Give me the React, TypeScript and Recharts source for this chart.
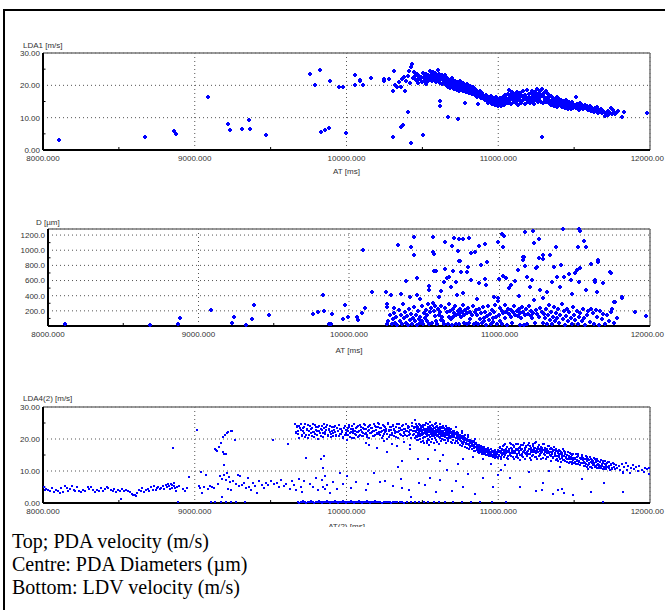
import {
  ScatterChart,
  Scatter,
  XAxis,
  YAxis,
  CartesianGrid,
  ReferenceLine,
} from "recharts";

const FONT = "'Liberation Sans', Arial, sans-serif";
const BLUE = "#0000ff";

type Pt = [number, number];

// axis ticks
const xTicks = [8000, 9000, 10000, 11000, 12000];
const xMinor = [8500, 9500, 10500, 11500];
const velTicks = [0, 10, 20, 30];
const velMinor = [5, 15, 25];
const diaTicks = [200, 400, 600, 800, 1000, 1200];
const diaMinor = [100, 300, 500, 700, 900, 1100];

// ---- top: LDA1 [m/s] (t in ms, v in m/s)
const lda1Sparse: Pt[] = [
  [8106, 3.2], [8674, 4.1], [8861, 5.9], [8875, 4.9], [9085, 16.5], [9217, 8.0], [9234, 6.3], [9309, 6.5],
  [9357, 9.4], [9365, 6.6], [9471, 4.7], [9757, 23.5], [9790, 20.2], [9826, 24.8], [9829, 5.5], [9860, 6.1],
  [9882, 6.8], [9890, 21.2], [9952, 19.6], [9975, 19.4], [9994, 5.2], [10053, 23.3], [10059, 20.2], [10087, 21.6],
  [10092, 21.2], [10106, 20.2], [10159, 22.3], [10246, 21.9], [10249, 21.2], [10282, 22.1], [10304, 18.4], [10306, 4.1],
  [10316, 24.5], [10322, 20.2], [10330, 19.6], [10344, 20.9], [10361, 19.4], [10361, 7.1], [10366, 22.1], [10372, 7.7],
  [10378, 22.7], [10386, 18.1], [10405, 11.6], [10414, 24.5], [10422, 2.2], [10428, 25.6], [10434, 26.6], [10442, 24.0],
  [10506, 4.7], [10615, 15.3], [10615, 13.7], [10666, 10.3], [10736, 9.6], [10783, 14.4], [11287, 4.1], [11813, 10.2],
  [11827, 11.9], [11980, 11.3], [10395, 21.4], [10408, 22.8], [10420, 20.6], [10437, 22.2],
];

const lda1Band: Pt[] = [
  [10452, 22.8], [10458, 21.5], [10463, 23.4], [10470, 22.1], [10474, 20.6], [10480, 23.0], [10486, 21.9], [10490, 22.6],
  [10497, 20.9], [10503, 23.8], [10508, 22.3], [10512, 21.2], [10518, 22.9], [10523, 20.4], [10527, 23.5], [10531, 22.0],
  [10536, 21.4], [10540, 23.1], [10544, 22.5], [10548, 24.3], [10552, 21.8], [10555, 23.0], [10558, 22.4], [10561, 23.7],
  [10564, 21.2], [10567, 22.9], [10570, 24.1], [10573, 22.2], [10576, 23.4], [10579, 21.6], [10582, 22.8], [10585, 23.9],
  [10588, 22.5], [10591, 21.0], [10594, 23.2], [10597, 22.0], [10600, 24.6], [10603, 22.7], [10606, 21.4], [10609, 23.5],
  [10612, 22.2], [10616, 20.8], [10619, 23.0], [10622, 21.9], [10625, 22.6], [10628, 20.3], [10632, 23.3], [10635, 21.5],
  [10638, 22.4], [10642, 20.9], [10645, 21.8], [10648, 23.1], [10652, 21.2], [10656, 20.0], [10659, 22.3], [10662, 21.5],
  [10666, 19.6], [10669, 20.8], [10672, 22.0], [10676, 21.1], [10679, 19.2], [10683, 20.5], [10686, 21.7], [10690, 20.1],
  [10693, 22.4], [10697, 19.8], [10700, 20.9], [10704, 21.6], [10707, 18.9], [10711, 20.3], [10714, 21.2], [10718, 19.5],
  [10721, 20.7], [10725, 18.6], [10728, 21.0], [10732, 19.9], [10735, 20.4], [10739, 18.3], [10742, 19.6], [10746, 21.3],
  [10749, 19.0], [10753, 20.2], [10757, 18.7], [10761, 19.5], [10765, 20.6], [10769, 18.1], [10773, 19.3], [10777, 20.0],
  [10781, 18.5], [10785, 19.7], [10789, 17.8], [10793, 19.0], [10797, 20.3], [10801, 18.4], [10805, 19.2], [10809, 17.5],
  [10813, 18.8], [10817, 19.9], [10821, 18.0], [10825, 17.2], [10829, 18.6], [10833, 19.4], [10837, 17.6], [10841, 18.3],
  [10845, 16.9], [10849, 18.9], [10853, 17.9], [10857, 16.5], [10861, 18.1], [10865, 17.3], [10869, 14.3], [10873, 17.7],
  [10877, 16.8], [10881, 18.4], [10885, 17.0], [10889, 16.2], [10893, 17.5], [10897, 16.6], [10901, 17.1], [10905, 15.9],
  [10909, 16.7], [10913, 15.4], [10917, 16.3], [10921, 17.0], [10925, 15.1], [10929, 16.0], [10933, 14.6], [10937, 15.7],
  [10941, 16.5], [10945, 14.9], [10949, 15.6], [10953, 16.8], [10957, 14.2], [10961, 15.3], [10965, 16.1], [10969, 14.7],
  [10973, 15.5], [10977, 13.9], [10981, 15.0], [10985, 16.4], [10989, 14.4], [10993, 15.8], [10997, 13.6], [11001, 15.2],
  [11005, 14.1], [11009, 16.0], [11013, 14.8], [11017, 13.5], [11021, 15.6], [11025, 14.3], [11029, 16.3], [11033, 15.0],
  [11037, 14.0], [11041, 15.9], [11045, 17.1], [11049, 14.6], [11053, 16.2], [11057, 15.1], [11061, 17.4], [11065, 14.5],
  [11069, 16.0], [11073, 18.6], [11077, 15.6], [11081, 16.9], [11085, 14.2], [11089, 15.8], [11093, 17.8], [11097, 16.4],
  [11101, 14.9], [11105, 15.5], [11109, 17.2], [11113, 16.1], [11117, 14.4], [11121, 18.0], [11125, 15.3], [11129, 16.7],
  [11133, 14.0], [11137, 15.9], [11141, 17.5], [11145, 16.3], [11149, 15.0], [11153, 14.6], [11157, 16.8], [11161, 18.2],
  [11165, 15.4], [11169, 16.0], [11173, 14.3], [11177, 17.0], [11181, 15.7], [11185, 16.5], [11189, 18.6], [11193, 14.8],
  [11197, 15.9], [11201, 17.3], [11205, 16.2], [11209, 14.5], [11213, 15.6], [11217, 17.7], [11221, 16.4], [11225, 18.3],
  [11229, 15.2], [11233, 16.9], [11237, 14.1], [11241, 17.9], [11245, 16.0], [11249, 15.4], [11253, 18.8], [11257, 16.6],
  [11261, 14.7], [11265, 17.4], [11269, 15.8], [11273, 18.4], [11277, 16.3], [11281, 17.1], [11285, 15.0], [11289, 18.9],
  [11293, 16.7], [11297, 14.4], [11301, 17.6], [11305, 15.5], [11309, 16.2], [11313, 18.1], [11317, 14.9], [11321, 16.0],
  [11325, 15.3], [11329, 17.2], [11333, 14.6], [11337, 16.5], [11341, 15.1], [11345, 13.8], [11349, 16.8], [11353, 15.4],
  [11357, 14.2], [11361, 16.1], [11365, 15.0], [11369, 13.6], [11373, 14.8], [11377, 15.7], [11381, 14.1], [11385, 16.4],
  [11389, 13.4], [11393, 15.2], [11397, 14.5], [11401, 15.9], [11405, 13.9], [11409, 14.7], [11413, 15.5], [11417, 13.2],
  [11421, 14.3], [11425, 15.1], [11429, 13.8], [11433, 14.9], [11437, 13.0], [11441, 14.4], [11445, 15.6], [11449, 13.5],
  [11453, 14.1], [11457, 12.8], [11461, 14.6], [11465, 13.7], [11469, 15.0], [11473, 13.3], [11477, 14.2], [11481, 12.6],
  [11485, 13.9], [11489, 14.8], [11493, 13.1], [11497, 14.0], [11505, 13.5], [11510, 16.3], [11515, 12.9], [11520, 14.3],
  [11525, 13.7], [11530, 12.5], [11535, 13.9], [11540, 14.6], [11545, 13.2], [11552, 13.8], [11558, 12.7], [11564, 13.4],
  [11570, 14.0], [11576, 12.9], [11582, 13.6], [11590, 12.4], [11596, 13.2], [11604, 13.7], [11610, 12.2], [11616, 13.0],
  [11624, 12.6], [11630, 11.8], [11636, 12.9], [11642, 12.1], [11650, 13.3], [11656, 11.5], [11662, 12.4], [11668, 11.9],
  [11676, 12.7], [11684, 11.3], [11692, 12.0], [11700, 11.6], [11706, 10.6], [11712, 11.2], [11720, 12.2], [11726, 10.8],
  [11734, 11.5], [11742, 12.9], [11748, 11.1], [11754, 12.4], [11760, 11.8], [11768, 11.0], [11775, 11.4], [11790, 12.0],
];

// ---- centre: D [µm]
const dSparse: Pt[] = [
  [8113, 25], [8676, 11], [8862, 29], [8879, 99], [9085, 213], [9220, 38], [9234, 117], [9313, 11], [9358, 90],
  [9366, 275], [9470, 143], [9758, 156], [9794, 182], [9828, 410], [9831, 196], [9868, 29], [9879, 29], [9890, 152],
  [9961, 86], [9975, 279], [9994, 117], [10056, 125], [10059, 82], [10087, 178], [10090, 1007], [10107, 244],
  [10155, 450], [10248, 450], [10251, 288], [10254, 253], [10251, 29], [10276, 415], [10301, 239], [10324, 1064],
];

const dHigh: Pt[] = [
  [10381, 595], [10414, 1042], [10430, 1178], [10430, 933], [10452, 638], [10556, 1170], [10560, 970], [10563, 946],
  [10563, 722], [10636, 1112], [10640, 753], [10685, 1059], [10695, 1156], [10725, 993], [10729, 1146], [10729, 860],
  [10740, 862], [10755, 1146], [10795, 1164], [10813, 959], [10866, 1051], [10901, 1082], [10988, 1104], [11017, 1213],
  [11032, 1182], [11021, 1038], [11155, 866], [11161, 914], [11172, 1235], [11223, 1249], [11231, 1091], [11240, 770],
  [11260, 1151], [11287, 884], [11337, 933], [11377, 1038], [11406, 805], [11425, 1279], [11500, 700], [11520, 1040],
  [11526, 1275], [11532, 1260], [11537, 770], [11564, 1121], [11572, 1042], [11637, 586], [11652, 871], [11655, 850],
  [11690, 565], [11736, 717], [11763, 322], [11817, 380], [11973, 138],
];

const dMid: Pt[] = [
  [10403, 389], [10454, 406], [10530, 529], [10530, 476], [10577, 731], [10614, 463], [10628, 582], [10651, 630],
  [10665, 652], [10679, 520], [10693, 731], [10713, 586], [10732, 858], [10744, 718], [10755, 432], [10783, 709],
  [10792, 775], [10811, 608], [10834, 972], [10862, 564], [10876, 805], [10901, 617], [10910, 542], [10918, 849],
  [10966, 389], [10989, 367], [10994, 617], [11023, 660], [11045, 630], [11065, 507], [11079, 542], [11101, 595],
  [11121, 739], [11155, 915], [11169, 796], [11186, 652], [11200, 520], [11214, 608], [11248, 783], [11262, 893],
  [11270, 476], [11290, 937], [11318, 454], [11346, 586], [11361, 783], [11383, 652], [11403, 520], [11431, 652],
  [11459, 687], [11473, 608], [11515, 739], [11530, 586], [11572, 476], [11606, 818], [11637, 608], [11651, 454],
  [11741, 704], [11769, 323], [11811, 367], [11901, 191], [10343, 420], [10470, 360], [10600, 380], [10720, 410],
  [10850, 360], [11130, 400], [11290, 370], [11480, 420],
];

const dLow: Pt[] = [
  [10262, 60], [10270, 140], [10283, 20], [10290, 95], [10300, 175], [10308, 40], [10315, 115], [10322, 10],
  [10330, 210], [10338, 70], [10345, 150], [10352, 25], [10360, 290], [10366, 105], [10373, 180], [10380, 45],
  [10387, 130], [10393, 8], [10400, 220], [10405, 85], [10411, 160], [10418, 30], [10424, 110], [10431, 250],
  [10437, 60], [10443, 140], [10450, 15], [10456, 195], [10462, 90], [10469, 45], [10475, 120], [10482, 260],
  [10488, 70], [10494, 30], [10499, 170], [10505, 100], [10513, 210], [10517, 150], [10521, 60], [10525, 290],
  [10533, 20], [10537, 180], [10545, 240], [10552, 45], [10556, 310], [10563, 200], [10570, 130], [10574, 260],
  [10578, 70], [10585, 30], [10592, 220], [10599, 150], [10606, 190], [10609, 85], [10613, 270], [10620, 125],
  [10627, 65], [10634, 25], [10641, 240], [10648, 180], [10655, 20], [10662, 290], [10665, 115], [10672, 200],
  [10676, 90], [10683, 10], [10690, 230], [10693, 120], [10700, 170], [10707, 260], [10711, 20], [10714, 140],
  [10721, 195], [10728, 30], [10732, 160], [10739, 220], [10746, 125], [10753, 185], [10760, 280], [10763, 35],
  [10767, 140], [10774, 210], [10781, 25], [10784, 170], [10791, 240], [10798, 40], [10802, 190], [10806, 95],
  [10814, 150], [10822, 260], [10830, 30], [10834, 180], [10842, 210], [10846, 45], [10852, 140], [10858, 20],
  [10864, 230], [10870, 90], [10876, 170], [10882, 40], [10888, 250], [10894, 110], [10900, 60], [10906, 190],
  [10912, 15], [10918, 130], [10924, 270], [10930, 75], [10936, 160], [10942, 30], [10948, 210], [10954, 100],
  [10960, 50], [10966, 180], [10972, 280], [10978, 120], [10984, 20], [10990, 330], [10996, 150], [11002, 70],
  [11006, 240], [11014, 30], [11018, 200], [11026, 170], [11034, 280], [11038, 110], [11046, 190], [11050, 10],
  [11058, 230], [11066, 160], [11074, 120], [11078, 210], [11086, 35], [11090, 180], [11098, 260], [11106, 150],
  [11114, 200], [11122, 130], [11130, 230], [11134, 15], [11138, 170], [11146, 110], [11150, 250], [11158, 185],
  [11166, 10], [11170, 140], [11178, 220], [11186, 30], [11190, 160], [11198, 270], [11206, 130], [11210, 200],
  [11218, 100], [11222, 175], [11230, 340], [11238, 35], [11242, 210], [11250, 155], [11262, 120], [11268, 240],
  [11280, 190], [11292, 45], [11298, 160], [11305, 100], [11312, 230], [11318, 30], [11325, 150], [11332, 280],
  [11338, 80], [11345, 190], [11352, 20], [11358, 120], [11365, 250], [11372, 60], [11378, 170], [11385, 110],
  [11392, 230], [11398, 40], [11405, 140], [11412, 290], [11420, 90], [11428, 200], [11435, 15], [11442, 130],
  [11450, 230], [11458, 70], [11465, 180], [11472, 110], [11480, 30], [11488, 250], [11495, 150], [11503, 80],
  [11512, 200], [11520, 20], [11528, 120], [11537, 170], [11545, 60], [11553, 230], [11562, 110], [11570, 10],
  [11580, 140], [11590, 200], [11600, 50], [11610, 220], [11620, 170], [11630, 30], [11640, 210], [11650, 120],
  [11660, 10], [11670, 200], [11680, 90], [11690, 160], [11700, 20], [11712, 140], [11725, 70], [11738, 180],
  [11750, 230], [11762, 40], [11780, 110],
];

// ---- bottom: LDA4(2) [m/s]
const lda4Early: Pt[] = [
  [8005, 4.9], [8012, 4.2], [8020, 4.5], [8035, 4.0], [8048, 3.8], [8062, 4.7], [8075, 3.3], [8083, 4.1],
  [8097, 3.9], [8110, 3.0], [8118, 4.6], [8130, 3.5], [8142, 5.3], [8155, 4.8], [8168, 3.9], [8175, 4.4],
  [8190, 5.2], [8203, 4.1], [8212, 3.6], [8225, 4.9], [8238, 3.8], [8250, 3.3], [8262, 4.0], [8280, 3.7],
  [8296, 5.1], [8305, 4.5], [8318, 5.0], [8330, 4.2], [8342, 3.4], [8358, 4.0], [8372, 3.6], [8383, 4.8],
  [8395, 3.9], [8410, 4.3], [8422, 5.1], [8430, 4.6], [8445, 4.0], [8458, 3.7], [8466, 4.5], [8480, 3.3],
  [8492, 4.1], [8505, 3.9], [8514, 1.2], [8520, 4.4], [8535, 3.6], [8548, 4.2], [8560, 3.8], [8575, 3.4],
  [8588, 2.8], [8595, 2.4], [8603, 2.6], [8612, 2.3], [8620, 3.1], [8632, 4.2], [8645, 3.9], [8655, 4.6],
  [8668, 3.5], [8676, 4.1], [8690, 4.4], [8700, 3.7], [8712, 4.9], [8722, 4.2], [8730, 5.3], [8742, 4.0],
  [8752, 4.7], [8760, 5.1], [8770, 4.3], [8780, 4.8], [8790, 5.4], [8798, 4.5], [8808, 5.6], [8815, 4.9],
  [8822, 5.8], [8830, 5.2], [8836, 4.4], [8842, 6.0], [8848, 5.5], [8853, 4.8], [8857, 17.2], [8860, 6.1],
  [8866, 5.3], [8872, 4.6], [8878, 3.9], [8885, 5.0], [8890, 0.4], [8898, 5.4], [8920, 4.3], [8935, 3.6],
  [8950, 4.8], [8962, 8.2],
];

const lda4Mid: Pt[] = [
  [9015, 22.7], [9025, 5.2], [9032, 4.6], [9043, 9.7], [9050, 3.0], [9060, 5.0], [9073, 8.6], [9085, 4.4],
  [9100, 5.4], [9112, 5.0], [9125, 4.8], [9134, 16.8], [9140, 16.5], [9146, 16.2], [9152, 5.9], [9158, 17.5],
  [9165, 8.4], [9172, 18.6], [9178, 1.8], [9180, 7.6], [9184, 15.8], [9187, 20.6], [9190, 15.2], [9193, 12.0],
  [9196, 8.8], [9199, 21.3], [9203, 7.2], [9206, 15.4], [9210, 21.8], [9214, 9.5], [9218, 4.3], [9222, 22.1],
  [9226, 8.1], [9230, 6.6], [9236, 22.4], [9242, 4.0], [9246, 22.5], [9255, 7.0], [9262, 19.8], [9272, 5.8],
  [9282, 8.9], [9290, 5.3], [9300, 8.4], [9312, 5.5], [9325, 6.2], [9338, 4.6], [9348, 7.9], [9360, 5.1],
  [9372, 4.0], [9385, 6.3], [9398, 5.2], [9410, 3.1], [9425, 6.8], [9440, 5.6], [9455, 4.7], [9470, 6.1],
  [9485, 5.5], [9500, 7.0], [9518, 19.6], [9525, 5.8], [9540, 6.4], [9555, 4.9], [9570, 7.3], [9585, 5.4],
  [9600, 6.0], [9617, 18.3], [9625, 4.3], [9640, 6.9], [9655, 5.5], [9670, 4.1], [9685, 7.6], [9698, 5.0],
];

const lda4Upper: Pt[] = [
  [9661, 24.6], [9668, 22.3], [9675, 23.8], [9682, 21.5], [9690, 24.2], [9697, 22.8], [9704, 20.9], [9711, 23.5],
  [9718, 22.0], [9725, 24.8], [9732, 21.3], [9738, 23.1], [9745, 20.4], [9752, 22.6], [9759, 24.0], [9766, 21.8],
  [9773, 23.4], [9780, 22.1], [9787, 20.6], [9794, 24.4], [9800, 22.9], [9807, 21.2], [9815, 23.7], [9822, 22.4],
  [9829, 20.8], [9836, 24.1], [9843, 22.0], [9850, 23.3], [9857, 21.6], [9864, 22.7], [9871, 24.5], [9878, 21.0],
  [9885, 23.0], [9892, 22.2], [9899, 20.5], [9906, 23.6], [9913, 21.9], [9920, 22.8], [9927, 24.0], [9934, 21.4],
  [9941, 22.5], [9948, 20.9], [9955, 23.2], [9962, 21.7], [9969, 22.4], [9976, 20.3], [9983, 23.5], [9990, 21.1],
  [9997, 22.0], [10004, 22.9], [10010, 21.3], [10016, 23.6], [10022, 20.7], [10028, 22.2], [10034, 24.1], [10040, 21.8],
  [10046, 23.0], [10052, 20.2], [10058, 22.6], [10064, 21.4], [10070, 23.8], [10076, 22.1], [10082, 20.8], [10088, 24.3],
  [10094, 22.7], [10100, 21.0], [10106, 23.3], [10112, 22.0], [10118, 24.6], [10124, 21.6], [10130, 23.1], [10136, 20.5],
  [10142, 22.4], [10148, 24.0], [10154, 21.9], [10160, 23.5], [10166, 22.3], [10172, 20.9], [10178, 24.8], [10184, 22.6],
  [10190, 21.2], [10196, 23.9], [10202, 22.0], [10208, 25.0], [10214, 21.5], [10220, 23.4], [10226, 22.2], [10232, 20.4],
  [10238, 24.4], [10244, 22.8], [10250, 21.7], [10256, 23.6], [10262, 22.4], [10268, 20.1], [10274, 24.9], [10280, 22.9],
  [10286, 21.3], [10292, 23.7], [10298, 22.0], [10304, 24.3], [10310, 21.0], [10316, 23.2], [10322, 22.5], [10328, 20.7],
  [10334, 24.6], [10340, 22.1], [10346, 23.4], [10352, 21.5], [10358, 22.8], [10364, 24.1], [10370, 20.9], [10376, 23.0],
  [10382, 22.2], [10388, 21.4], [10394, 24.7], [10400, 22.6], [10406, 23.5], [10412, 21.1], [10418, 22.9], [10424, 20.3],
  [10430, 24.0], [10436, 22.4], [10442, 23.3], [10448, 21.7], [10454, 26.0], [10000, 19.6], [10130, 18.8], [10250, 19.3],
  [10300, 18.5], [10380, 19.0], [10420, 18.2],
];

const lda4UpperB: Pt[] = [
  [9664, 21.9], [9671, 24.1], [9679, 22.6], [9686, 20.3], [9693, 23.3], [9701, 24.6], [9709, 21.2], [9714, 22.4],
  [9722, 23.7], [9729, 20.7], [9741, 22.9], [9748, 24.3], [9755, 21.4], [9763, 23.0], [9770, 20.9], [9777, 24.7],
  [9784, 22.3], [9791, 21.6], [9798, 23.9], [9805, 22.6], [9812, 20.1], [9819, 24.2], [9826, 21.9], [9833, 23.1],
  [9840, 22.7], [9847, 20.6], [9854, 24.6], [9861, 22.1], [9868, 23.6], [9875, 21.3], [9882, 22.8], [9889, 24.2],
  [9896, 21.7], [9903, 22.4], [9910, 20.8], [9917, 23.9], [9924, 22.2], [9931, 21.0], [9938, 23.4], [9945, 22.6],
  [9952, 24.4], [9959, 21.5], [9966, 23.0], [9973, 22.2], [9980, 20.6], [9987, 24.0], [9994, 22.7], [10001, 21.4],
  [10007, 23.5], [10013, 22.4], [10019, 24.4], [10025, 21.9], [10031, 23.2], [10037, 20.4], [10043, 22.6], [10049, 24.7],
  [10055, 21.7], [10061, 23.4], [10067, 22.3], [10073, 20.6], [10079, 24.0], [10085, 22.5], [10091, 21.3], [10097, 23.7],
  [10103, 22.2], [10109, 20.8], [10115, 23.0], [10121, 24.3], [10127, 22.0], [10133, 21.1], [10139, 23.6], [10145, 22.8],
  [10151, 20.3], [10157, 24.5], [10163, 21.8], [10169, 23.3], [10175, 22.5], [10181, 21.0], [10187, 24.1], [10193, 22.9],
  [10199, 21.6], [10205, 23.7], [10211, 22.3], [10217, 24.8], [10223, 21.2], [10229, 23.5], [10235, 22.6], [10241, 20.9],
  [10247, 24.0], [10253, 22.2], [10259, 23.2], [10265, 21.5], [10271, 24.6], [10277, 22.4], [10283, 20.6], [10289, 23.8],
  [10295, 22.7], [10301, 21.2], [10307, 24.2], [10313, 22.9], [10319, 21.8], [10325, 23.6], [10331, 22.3], [10337, 20.4],
  [10343, 24.8], [10349, 22.5], [10355, 23.4], [10361, 21.3], [10367, 22.7], [10373, 24.4], [10379, 21.9], [10385, 23.2],
  [10391, 22.6], [10397, 20.8], [10403, 24.1], [10409, 22.2], [10415, 23.7], [10421, 21.6], [10427, 22.8], [10433, 25.0],
  [10439, 21.3], [10445, 23.9], [10451, 22.5],
];

const lda4Peak: Pt[] = [
  [10456, 22.1], [10459, 23.8], [10462, 20.6], [10464, 22.9], [10467, 24.2], [10470, 21.4], [10472, 19.8], [10475, 23.1],
  [10478, 22.3], [10480, 20.9], [10483, 24.5], [10486, 21.7], [10488, 23.4], [10491, 19.2], [10494, 22.6], [10496, 24.0],
  [10499, 21.1], [10502, 22.8], [10504, 20.3], [10507, 23.6], [10510, 21.9], [10512, 18.6], [10515, 22.4], [10518, 24.3],
  [10520, 20.7], [10523, 23.0], [10526, 21.5], [10528, 19.5], [10531, 22.2], [10534, 24.6], [10536, 20.1], [10539, 23.3],
  [10542, 21.2], [10544, 18.1], [10547, 22.7], [10550, 24.1], [10552, 20.5], [10555, 23.5], [10558, 21.8], [10560, 19.1],
  [10563, 22.9], [10566, 24.4], [10568, 20.8], [10571, 23.2], [10574, 21.4], [10576, 18.9], [10579, 22.5], [10582, 24.7],
  [10584, 20.2], [10587, 23.7], [10590, 21.6], [10592, 19.7], [10595, 22.3], [10598, 24.2], [10600, 20.9], [10603, 23.0],
  [10606, 21.3], [10608, 18.4], [10611, 22.6], [10614, 23.9], [10616, 20.4], [10619, 22.8], [10622, 21.0], [10624, 19.3],
  [10627, 23.4], [10630, 21.7], [10632, 20.1], [10635, 22.5], [10638, 23.8], [10640, 19.6], [10643, 21.9], [10646, 22.9],
  [10648, 20.6], [10651, 23.2], [10654, 21.2], [10656, 18.8], [10659, 22.0], [10662, 23.5], [10664, 20.3], [10667, 21.6],
  [10670, 22.7], [10672, 19.4], [10675, 21.1], [10678, 22.9], [10680, 20.5], [10683, 21.8], [10686, 19.1], [10688, 22.3],
  [10691, 20.8], [10694, 21.5], [10696, 18.7], [10699, 22.0], [10457, 21.0], [10466, 23.0], [10474, 22.0], [10482, 21.0],
  [10490, 23.0], [10498, 22.0], [10506, 21.6], [10514, 23.2], [10522, 22.0], [10530, 20.8], [10538, 22.6], [10546, 21.4],
  [10554, 22.2], [10562, 21.0], [10570, 22.0], [10578, 23.4], [10586, 22.0], [10594, 21.0], [10602, 22.4], [10610, 21.5],
  [10618, 23.0], [10626, 22.0], [10634, 21.0], [10642, 20.8], [10650, 22.0], [10658, 21.3], [10666, 22.6], [10674, 20.7],
];

const lda4PeakB: Pt[] = [
  [10451, 20.2], [10455, 24.6], [10461, 22.4], [10465, 19.6], [10469, 23.6], [10473, 21.1], [10477, 24.8], [10481, 22.7],
  [10485, 19.9], [10489, 21.3], [10493, 23.9], [10497, 22.5], [10501, 19.4], [10505, 24.4], [10509, 22.9], [10513, 20.6],
  [10517, 21.8], [10521, 24.9], [10525, 22.6], [10529, 18.8], [10533, 21.4], [10537, 23.8], [10541, 22.1], [10545, 19.7],
  [10549, 23.0], [10553, 25.2], [10557, 21.6], [10561, 22.7], [10565, 20.0], [10569, 24.0], [10573, 22.4], [10577, 20.9],
  [10581, 23.5], [10585, 21.9], [10589, 25.0], [10593, 22.8], [10597, 19.0], [10601, 23.3], [10605, 22.1], [10609, 20.6],
  [10613, 24.6], [10617, 21.6], [10621, 23.6], [10625, 22.4], [10629, 20.0], [10633, 24.1], [10637, 22.0], [10641, 21.1],
  [10645, 23.4], [10649, 19.8], [10653, 22.6], [10657, 24.0], [10661, 21.3], [10665, 22.9], [10669, 20.0], [10673, 23.3],
  [10677, 21.7], [10681, 22.6], [10685, 20.2], [10689, 23.0], [10693, 21.9], [10697, 20.5], [10500, 22.4], [10508, 21.8],
  [10516, 23.0], [10524, 22.2], [10532, 21.6], [10540, 22.8], [10548, 23.4], [10556, 22.0], [10564, 21.5], [10572, 22.9],
  [10580, 22.3], [10588, 21.4], [10596, 22.7], [10604, 23.1], [10612, 21.9], [10620, 22.5], [10628, 21.3], [10636, 22.6],
  [10644, 21.8], [10652, 22.8], [10660, 21.5], [10668, 22.1], [10676, 21.8], [10684, 22.5], [10692, 21.3],
];

const lda4Fall: Pt[] = [
  [10702, 21.3], [10705, 19.8], [10708, 22.4], [10711, 20.6], [10714, 18.9], [10717, 21.7], [10720, 20.2], [10723, 22.0],
  [10726, 19.4], [10729, 21.1], [10732, 20.5], [10735, 18.6], [10738, 21.8], [10741, 19.9], [10744, 20.7], [10747, 18.2],
  [10750, 21.3], [10753, 19.5], [10756, 20.4], [10759, 17.9], [10762, 21.0], [10765, 19.2], [10768, 20.1], [10771, 18.5],
  [10774, 20.8], [10777, 19.0], [10780, 17.6], [10783, 20.3], [10786, 18.8], [10789, 19.7], [10792, 17.3], [10795, 20.0],
  [10798, 18.4], [10801, 19.3], [10804, 16.9], [10807, 19.6], [10810, 18.1], [10813, 19.0], [10816, 17.5], [10819, 18.7],
  [10822, 19.4], [10825, 16.8], [10828, 18.3], [10831, 17.7], [10834, 19.1], [10837, 16.4], [10840, 18.0], [10843, 17.2],
  [10846, 18.8], [10849, 16.1], [10852, 17.6], [10855, 18.4], [10858, 16.7], [10861, 17.3], [10864, 15.9], [10867, 18.1],
  [10870, 16.9], [10873, 17.5], [10876, 15.6], [10879, 16.6], [10882, 17.8], [10885, 16.0], [10888, 17.1], [10891, 15.4],
  [10894, 16.5], [10897, 17.4], [10900, 15.8], [10903, 16.8], [10906, 15.2], [10909, 16.2], [10912, 17.0], [10915, 15.5],
  [10918, 16.4], [10921, 14.9], [10924, 15.9], [10927, 16.9], [10930, 15.3], [10933, 16.1], [10936, 14.8], [10939, 15.7],
  [10942, 16.6], [10945, 15.0], [10948, 16.0], [10951, 14.6], [10954, 15.5], [10957, 16.4], [10960, 14.9], [10963, 15.8],
  [10966, 14.4], [10969, 15.3], [10972, 16.2], [10975, 14.7], [10978, 15.6], [10981, 14.2], [10984, 15.1], [10987, 16.0],
  [10990, 14.5], [10993, 15.4], [10996, 14.0], [10999, 15.8], [10720, 23.8], [10760, 22.6], [10800, 21.2], [10850, 20.0],
  [10704, 22.6], [10709, 20.9], [10715, 21.9], [10719, 19.3], [10725, 21.0], [10731, 22.2], [10737, 20.1], [10742, 21.4],
  [10748, 19.6], [10754, 20.9], [10758, 22.0], [10764, 18.9], [10770, 20.6], [10775, 19.8], [10781, 21.2], [10787, 18.4],
  [10793, 19.5], [10799, 20.6], [10805, 18.2], [10811, 19.8], [10817, 18.9], [10823, 17.7], [10829, 19.3], [10835, 18.0],
  [10841, 19.5], [10847, 17.4], [10853, 18.6], [10859, 17.8], [10865, 16.5], [10871, 18.2], [10877, 17.1], [10883, 16.3],
  [10889, 17.7], [10895, 16.0], [10901, 16.9], [10907, 17.6], [10913, 15.7], [10919, 16.5], [10925, 15.1], [10931, 17.2],
  [10937, 16.2], [10943, 15.2], [10949, 16.8], [10955, 15.9], [10961, 14.7], [10967, 16.2], [10973, 15.0], [10979, 16.6],
  [10985, 14.6], [10991, 15.6], [10997, 16.5],
];

const lda4Plateau: Pt[] = [
  [11003, 16.3], [11007, 14.8], [11011, 17.2], [11015, 15.5], [11019, 13.9], [11023, 16.7], [11027, 15.1], [11031, 17.8],
  [11035, 14.4], [11039, 16.0], [11043, 18.3], [11047, 15.3], [11051, 16.8], [11055, 14.1], [11059, 17.4], [11063, 15.8],
  [11067, 13.6], [11071, 16.5], [11075, 18.6], [11079, 15.0], [11083, 17.1], [11087, 14.7], [11091, 16.2], [11095, 18.0],
  [11099, 15.6], [11103, 13.8], [11107, 17.6], [11111, 16.1], [11115, 14.5], [11119, 18.4], [11123, 15.4], [11127, 16.9],
  [11131, 14.0], [11135, 17.3], [11139, 15.9], [11143, 13.5], [11147, 16.6], [11151, 18.1], [11155, 15.2], [11159, 17.0],
  [11163, 14.3], [11167, 16.4], [11171, 18.7], [11175, 15.7], [11179, 13.7], [11183, 17.5], [11187, 16.0], [11191, 14.6],
  [11195, 18.2], [11199, 15.3], [11203, 16.8], [11207, 14.1], [11211, 17.7], [11215, 15.9], [11219, 13.4], [11223, 16.5],
  [11227, 18.5], [11231, 15.1], [11235, 17.2], [11239, 14.4], [11243, 16.2], [11247, 19.2], [11251, 15.6], [11255, 13.9],
  [11259, 17.4], [11263, 16.0], [11267, 14.7], [11271, 18.0], [11275, 15.4], [11279, 16.9], [11283, 13.6], [11287, 17.1],
  [11291, 15.8], [11295, 14.2], [11299, 16.6], [11303, 18.3], [11307, 15.0], [11311, 16.7], [11315, 13.8], [11319, 17.0],
  [11323, 15.5], [11327, 14.3], [11331, 16.4], [11335, 17.7], [11339, 14.9], [11343, 15.9], [11347, 13.2], [11351, 16.8],
  [11355, 15.2], [11359, 14.0], [11363, 16.3], [11367, 17.4], [11371, 14.6], [11375, 15.7], [11379, 13.5], [11383, 16.1],
  [11387, 14.8], [11391, 15.5], [11395, 13.1], [11399, 16.6], [11403, 14.4], [11407, 15.3], [11411, 12.9], [11415, 15.9],
  [11419, 14.2], [11423, 15.0], [11427, 13.4], [11431, 16.2], [11435, 14.7], [11439, 13.0], [11443, 15.4], [11447, 14.1],
  [11451, 12.7], [11455, 15.1], [11459, 13.8], [11463, 14.6], [11467, 12.5], [11471, 15.6], [11475, 13.6], [11479, 14.3],
  [11483, 12.3], [11487, 14.9], [11491, 13.3], [11495, 14.0], [11499, 12.6], [11005, 15.8], [11017, 16.0], [11029, 15.4],
  [11041, 16.5], [11053, 15.6], [11065, 16.3], [11077, 15.2], [11089, 16.8], [11101, 16.2], [11113, 15.5], [11125, 16.6],
  [11137, 15.7], [11149, 16.9], [11161, 16.0], [11173, 17.1], [11185, 15.4], [11197, 16.4], [11209, 17.0], [11221, 15.8],
  [11233, 16.5], [11245, 17.3], [11257, 16.1], [11269, 16.8], [11281, 15.5], [11293, 16.6], [11305, 15.9], [11317, 16.3],
  [11329, 15.6],
];

const lda4PlateauB: Pt[] = [
  [11002, 15.0], [11009, 17.5], [11014, 16.4], [11021, 14.3], [11026, 16.9], [11033, 15.7], [11038, 18.0], [11045, 14.9],
  [11050, 16.1], [11057, 17.6], [11062, 14.6], [11069, 15.9], [11074, 17.0], [11081, 18.3], [11086, 15.5], [11093, 16.7],
  [11098, 14.3], [11105, 17.8], [11110, 15.9], [11117, 16.8], [11122, 14.8], [11129, 18.5], [11134, 16.3], [11141, 15.1],
  [11146, 17.6], [11153, 16.7], [11158, 14.6], [11165, 18.1], [11170, 15.8], [11177, 16.6], [11182, 17.8], [11189, 14.9],
  [11194, 16.3], [11201, 18.9], [11206, 15.3], [11213, 17.1], [11218, 16.2], [11225, 14.7], [11230, 17.9], [11237, 16.0],
  [11242, 18.6], [11249, 14.5], [11254, 17.0], [11261, 15.8], [11266, 18.2], [11273, 16.3], [11278, 14.9], [11285, 17.6],
  [11290, 16.1], [11297, 18.4], [11302, 15.2], [11309, 17.3], [11314, 16.0], [11321, 14.5], [11326, 17.9], [11333, 15.6],
  [11338, 16.9], [11345, 14.8], [11350, 17.2], [11357, 15.9], [11362, 14.3], [11369, 16.6], [11374, 15.1], [11381, 17.0],
  [11386, 13.7], [11393, 16.1], [11398, 14.9], [11405, 16.4], [11410, 13.9], [11417, 15.6], [11422, 14.6], [11429, 16.8],
  [11434, 13.3], [11441, 15.8], [11446, 14.5], [11453, 13.6], [11458, 15.9], [11465, 14.2], [11470, 12.9], [11477, 15.3],
  [11482, 13.9], [11489, 12.8], [11494, 15.2], [11501, 13.7],
];

const lda4Tail: Pt[] = [
  [11503, 14.2], [11508, 12.8], [11513, 15.3], [11518, 13.5], [11523, 12.1], [11528, 14.6], [11533, 13.0], [11538, 11.9],
  [11543, 14.0], [11548, 12.6], [11553, 15.1], [11558, 13.3], [11563, 11.6], [11568, 13.9], [11573, 12.4], [11578, 14.7],
  [11583, 13.0], [11588, 11.4], [11593, 13.6], [11598, 12.2], [11603, 14.3], [11608, 12.8], [11613, 11.1], [11618, 13.4],
  [11623, 12.0], [11628, 14.1], [11633, 12.5], [11638, 11.3], [11643, 13.1], [11648, 11.8], [11653, 13.7], [11658, 12.3],
  [11663, 10.9], [11668, 12.9], [11673, 11.6], [11678, 13.3], [11683, 12.0], [11688, 10.7], [11693, 12.6], [11698, 11.4],
  [11703, 13.0], [11708, 11.8], [11713, 10.5], [11718, 12.4], [11723, 11.1], [11728, 12.8], [11733, 11.5], [11738, 10.3],
  [11743, 12.1], [11748, 10.9], [11755, 12.5], [11762, 11.2], [11770, 10.6], [11778, 12.0], [11785, 11.0], [11795, 11.7],
  [11805, 10.4], [11815, 12.2], [11822, 9.8], [11830, 11.1], [11840, 12.5], [11848, 10.2], [11858, 11.6], [11866, 9.5],
  [11875, 10.8], [11885, 12.0], [11895, 10.5], [11905, 11.3], [11918, 10.0], [11930, 11.7], [11945, 10.3], [11958, 9.6],
  [11970, 11.0], [11982, 10.6], [11992, 9.2], [11996, 10.8],
];

const lda4TailB: Pt[] = [
  [11506, 13.6], [11511, 12.2], [11516, 14.5], [11521, 13.1], [11526, 15.4], [11531, 12.7], [11536, 14.2], [11541, 12.0],
  [11546, 13.7], [11551, 14.8], [11556, 12.5], [11561, 14.0], [11566, 12.9], [11571, 11.5], [11576, 13.8], [11581, 12.3],
  [11586, 14.3], [11591, 11.8], [11596, 13.4], [11601, 12.6], [11606, 11.2], [11611, 13.6], [11616, 12.4], [11621, 11.0],
  [11626, 13.1], [11631, 12.0], [11636, 13.9], [11641, 11.5], [11646, 12.7], [11651, 11.0], [11656, 13.2], [11661, 12.0],
  [11666, 11.3], [11671, 12.9], [11676, 10.8], [11681, 12.2], [11686, 11.6], [11691, 13.0], [11696, 10.6], [11701, 12.1],
  [11711, 11.4], [11721, 12.8], [11731, 10.9], [11741, 11.9], [11751, 10.7], [11761, 12.3],
];

const lda4Scatter: Pt[] = [
  [9830, 13.9], [9838, 7.2], [9843, 5.1], [9848, 10.8], [9852, 14.6], [9856, 4.4], [9860, 8.5], [9735, 14.0],
  [9760, 6.0], [9780, 4.9], [9800, 7.8], [9815, 4.2], [9870, 5.6], [9890, 3.2], [9910, 6.5], [9940, 4.4],
  [9960, 9.4], [9980, 5.8], [9720, 6.9], [9705, 3.5], [10001, 8.4], [10030, 4.6], [10063, 6.6], [10129, 4.0],
  [10144, 5.9], [10221, 6.7], [10254, 6.8], [10308, 5.3], [10357, 7.5], [10364, 4.8], [10423, 2.0], [10480, 6.3],
  [10517, 5.6], [10550, 7.7], [10616, 7.1], [10660, 10.3], [10693, 3.8], [10766, 5.1], [10803, 9.0], [10902, 7.7],
  [10963, 5.1], [11077, 7.7], [11143, 5.1], [11286, 4.0], [11293, 6.4], [11363, 2.8], [11396, 4.0], [11418, 4.3],
  [11434, 3.2], [11495, 2.5], [11609, 3.5], [11820, 3.5], [10364, 13.1], [10340, 11.3], [10474, 13.9], [10540, 13.9],
  [10616, 13.2], [10634, 14.9], [10737, 12.3], [10770, 13.9], [10832, 14.4], [10902, 13.6], [10950, 12.1], [11045, 11.8],
  [11020, 10.3], [11336, 10.0], [11405, 11.3], [11594, 10.6], [11820, 9.5], [10200, 17.2], [10270, 16.0], [10150, 18.0],
  [10580, 16.6], [10420, 16.9], [10330, 17.8], [10180, 9.5], [10410, 4.1], [10590, 3.3], [10720, 6.9], [10850, 2.9],
  [11000, 8.8], [11200, 9.8], [11250, 3.6], [11550, 7.4], [11700, 6.2],
];

const lda4Zero: Pt[] = [
  [9110, 0.3], [9135, 0.2], [9170, 0.4], [9205, 0.3], [9240, 0.2], [9270, 0.3], [9330, 0.2], [9682, 0.3],
  [9690, 0.1], [9697, 0.4], [9705, 0.2], [9712, 0.5], [9720, 0.2], [9728, 0.3], [9736, 0.1], [9743, 0.4],
  [9751, 0.2], [9758, 0.3], [9766, 0.5], [9773, 0.2], [9781, 0.3], [9788, 0.1], [9796, 0.4], [9803, 0.2],
  [9811, 0.3], [9818, 0.6], [9826, 0.2], [9833, 0.3], [9841, 0.1], [9848, 0.4], [9856, 0.2], [9863, 0.3],
  [9871, 0.5], [9878, 0.2], [9886, 0.3], [9893, 0.1], [9901, 0.4], [9908, 0.2], [9916, 0.3], [9923, 0.5],
  [9931, 0.2], [9938, 0.3], [9946, 0.1], [9953, 0.4], [9961, 0.2], [9968, 0.3], [9976, 0.6], [9983, 0.2],
  [9991, 0.3], [9998, 0.1], [10006, 0.4], [10013, 0.2], [10021, 0.3], [10028, 0.5], [10036, 0.2], [10043, 0.3],
  [10051, 0.1], [10058, 0.4], [10066, 0.2], [10073, 0.3], [10081, 0.5], [10088, 0.2], [10096, 0.3], [10103, 0.1],
  [10111, 0.4], [10118, 0.2], [10126, 0.3], [10133, 0.5], [10141, 0.2], [10148, 0.3], [10156, 0.1], [10163, 0.4],
  [10171, 0.2], [10178, 0.3], [10186, 0.5], [10193, 0.2], [10201, 0.3], [10212, 0.2], [10224, 0.4], [10236, 0.1],
  [10248, 0.3], [10260, 0.2], [10272, 0.4], [10284, 0.3], [10296, 0.1], [10308, 0.3], [10320, 0.2], [10335, 0.4],
  [10350, 0.2], [10365, 0.3], [10380, 0.1], [10400, 0.3], [10425, 0.2], [10450, 0.4], [10480, 0.2], [10510, 0.3],
  [10540, 0.2], [10575, 0.4], [10610, 0.2], [10650, 0.3], [10700, 0.2], [10760, 0.3], [10820, 0.2], [10880, 0.3],
  [10960, 0.2], [11050, 0.3], [11690, 0.2],
];

const toRows = (pts: Pt[]) => pts.map(([t, v]) => ({ t, v }));

// fat "+" marker used by the PDA plots
const PlusDot = (p: any) => {
  const x = Math.round(p.cx);
  const y = Math.round(p.cy);
  return (
    <path
      d={`M${x - 1} ${y - 2}h2v1h1v2h-1v1h-2v-1h-1v-2h1z`}
      fill={BLUE}
    />
  );
};

// small square dot for the LDV plot
const TinyDot = (p: any) => (
  <rect
    x={Math.round(p.cx) - 1}
    y={Math.round(p.cy) - 1}
    width={2}
    height={2}
    fill={BLUE}
  />
);

const CH = 180;
const PLOT_RIGHT = 650;
const tickStyle = { fontSize: 8, fill: "#333", fontFamily: FONT };

// last x label sits flush with the right edge, like the original export
const XTick = ({ x, y, payload }: any) => {
  const last = payload.value === 12000;
  return (
    <text
      x={last ? x + 14 : x}
      y={y}
      dy="0.71em"
      textAnchor={last ? "end" : "middle"}
      {...tickStyle}
    >
      {last ? payload.value.toFixed(2) : payload.value.toFixed(3)}
    </text>
  );
};

const Panel = ({
  top,
  mTop,
  plotH,
  plotLeft,
  yDomain,
  yTicks,
  yMinor,
  yDigits,
  yTitle,
  yTitleX,
  yTitleY,
  xTitle,
  xTitleY,
  series,
  dot,
}: any) => {
  const xAxisH = CH - mTop - plotH;
  const [y0, y1] = yDomain;
  const tickUp = (3 * (y1 - y0)) / plotH;
  const tickRight = (2.5 * 4000) / (PLOT_RIGHT - plotLeft);
  const midX = (plotLeft + PLOT_RIGHT) / 2;

  return (
    <div style={{ position: "absolute", left: 0, top }}>
      <ScatterChart
        width={665}
        height={CH}
        margin={{ top: mTop, right: 665 - PLOT_RIGHT, bottom: 0, left: 0 }}
      >
        <CartesianGrid stroke="#555" strokeDasharray="1 3" />
        <XAxis
          type="number"
          dataKey="t"
          domain={[8000, 12000]}
          ticks={xTicks}
          interval={0}
          height={xAxisH}
          tickLine={false}
          tickSize={0}
          tickMargin={5}
          axisLine={{ stroke: "#000", strokeWidth: 2 }}
          tick={<XTick />}
          label={{
            content: () => (
              <text
                x={midX}
                y={xTitleY}
                textAnchor="middle"
                fontSize={8}
                fontFamily={FONT}
                fill="#333"
              >
                {xTitle}
              </text>
            ),
          }}
        />
        <YAxis
          type="number"
          dataKey="v"
          domain={yDomain}
          ticks={yTicks}
          interval={0}
          tickFormatter={(v: number) => v.toFixed(yDigits)}
          width={plotLeft}
          tickLine={false}
          tickSize={0}
          tickMargin={3}
          axisLine={{ stroke: "#000", strokeWidth: 2 }}
          tick={tickStyle}
          label={{
            content: () => (
              <text
                x={yTitleX}
                y={yTitleY}
                textAnchor="start"
                fontSize={8}
                fontFamily={FONT}
                fill="#333"
              >
                {yTitle}
              </text>
            ),
          }}
        />
        {xMinor.map((x) => (
          <ReferenceLine
            key={"xm" + x}
            segment={[
              { x, y: y0 },
              { x, y: y0 + tickUp },
            ]}
            stroke="#000"
          />
        ))}
        {yMinor.map((y: number) => (
          <ReferenceLine
            key={"ym" + y}
            segment={[
              { x: 8000, y },
              { x: 8000 + tickRight, y },
            ]}
            stroke="#000"
          />
        ))}
        <ReferenceLine y={y1} stroke="#777" strokeWidth={1.5} />
        <ReferenceLine x={12000} stroke="#777" strokeWidth={1.5} />
        {series.map((s: Pt[], i: number) => (
          <Scatter
            key={i}
            data={toRows(s)}
            shape={dot}
            isAnimationActive={false}
          />
        ))}
      </ScatterChart>
    </div>
  );
};

export default function App() {
  return (
    <div
      style={{
        position: "absolute",
        left: 0,
        top: 0,
        width: 665,
        height: 610,
        overflow: "hidden",
        background: "#fff",
      }}
    >
      <Panel
        top={0}
        mTop={53}
        plotH={97}
        plotLeft={43}
        yDomain={[0, 30]}
        yTicks={velTicks}
        yMinor={velMinor}
        yDigits={2}
        yTitle="LDA1 [m/s]"
        yTitleX={23}
        yTitleY={48}
        xTitle="AT [ms]"
        xTitleY={174}
        series={[lda1Sparse, lda1Band]}
        dot={PlusDot}
      />
      <Panel
        top={180}
        mTop={49}
        plotH={97}
        plotLeft={48}
        yDomain={[0, 1280]}
        yTicks={diaTicks}
        yMinor={diaMinor}
        yDigits={1}
        yTitle="D [µm]"
        yTitleX={36}
        yTitleY={45}
        xTitle="AT [ms]"
        xTitleY={173}
        series={[dSparse, dHigh, dMid, dLow]}
        dot={PlusDot}
      />
      <Panel
        top={360}
        mTop={47}
        plotH={96}
        plotLeft={43}
        yDomain={[0, 30]}
        yTicks={velTicks}
        yMinor={velMinor}
        yDigits={2}
        yTitle="LDA4(2) [m/s]"
        yTitleX={23}
        yTitleY={41}
        xTitle="AT(2) [ms]"
        xTitleY={168.5}
        series={[
          lda4Early,
          lda4Mid,
          lda4Upper,
          lda4UpperB,
          lda4Peak,
          lda4PeakB,
          lda4Fall,
          lda4Plateau,
          lda4PlateauB,
          lda4Tail,
          lda4TailB,
          lda4Scatter,
          lda4Zero,
        ]}
        dot={TinyDot}
      />
      <div
        style={{
          position: "absolute",
          left: 6,
          top: 527,
          width: 659,
          height: 83,
          background: "#fff",
          boxSizing: "border-box",
          paddingLeft: 6,
          paddingTop: 3,
          fontFamily: "'Liberation Serif', 'Times New Roman', serif",
          fontSize: 20,
          lineHeight: "23px",
          color: "#000",
        }}
      >
        <div>Top; PDA velocity (m/s)</div>
        <div>Centre: PDA Diameters (µm)</div>
        <div>Bottom: LDV velocity (m/s)</div>
      </div>
      <div
        style={{
          position: "absolute",
          left: 3,
          top: 9,
          width: 700,
          height: 700,
          borderLeft: "2px solid #000",
          borderTop: "2px solid #000",
          pointerEvents: "none",
        }}
      />
    </div>
  );
}
